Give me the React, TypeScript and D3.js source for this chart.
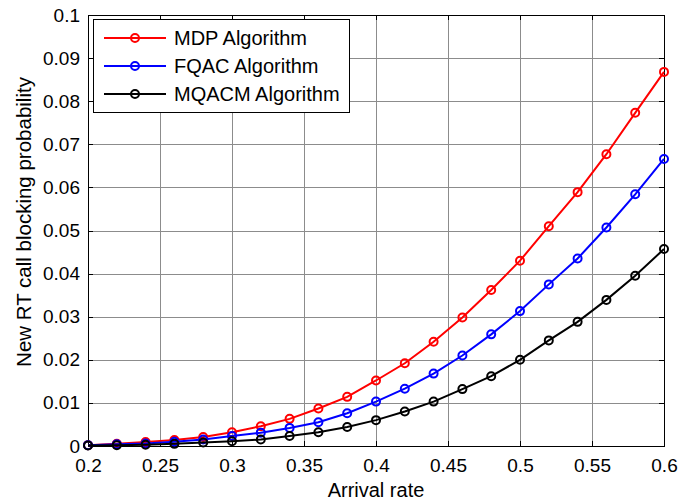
import React, { useEffect, useRef } from "react";
import * as d3 from "d3";

// arrival rates 0.2 .. 0.6
const arrivalRates = [0.2, 0.22, 0.24, 0.26, 0.28, 0.3, 0.32, 0.34, 0.36, 0.38, 0.4,
  0.42, 0.44, 0.46, 0.48, 0.5, 0.52, 0.54, 0.56, 0.58, 0.6];

const mdpValues = [0.0002, 0.0005, 0.0009, 0.0014, 0.0021, 0.0032, 0.0046, 0.0063, 0.0087, 0.0114, 0.0152,
  0.0192, 0.0242, 0.0298, 0.0362, 0.043, 0.051, 0.0589, 0.0677, 0.0773, 0.0868];
const fqacValues = [0.0002, 0.0004, 0.0006, 0.001, 0.0015, 0.0023, 0.0031, 0.0042, 0.0055, 0.0076, 0.0103,
  0.0133, 0.0168, 0.021, 0.0259, 0.0313, 0.0375, 0.0435, 0.0507, 0.0584, 0.0666];
const mqacmValues = [0.0001, 0.0002, 0.0003, 0.0005, 0.0008, 0.0011, 0.0015, 0.0023, 0.0032, 0.0044, 0.006,
  0.008, 0.0103, 0.0132, 0.0162, 0.02, 0.0245, 0.0288, 0.0339, 0.0395, 0.0457];

const seriesNames = ["MDP Algorithm", "FQAC Algorithm", "MQACM Algorithm"];
const seriesColors = ["#ff0000", "#0000ff", "#000000"];

const xTicks = [0.2, 0.25, 0.3, 0.35, 0.4, 0.45, 0.5, 0.55, 0.6];
const yTicks = [0, 0.01, 0.02, 0.03, 0.04, 0.05, 0.06, 0.07, 0.08, 0.09, 0.1];

export default function App() {
  const ref = useRef<SVGSVGElement>(null);

  useEffect(() => {
    const svg = d3.select(ref.current);
    svg.selectAll("*").remove();

    const left = 88, right = 664, top = 15, bottom = 446;
    const font = "Arial, 'Liberation Sans', sans-serif";

    const x = d3.scaleLinear().domain([0.2, 0.6]).range([left, right]);
    const y = d3.scaleLinear().domain([0, 0.1]).range([bottom, top]);

    svg.append("rect").attr("width", 680).attr("height", 501).attr("fill", "#fff");

    // grid
    const grid = svg.append("g").attr("stroke", "#8c8c8c").attr("stroke-width", 1);
    xTicks.slice(1, -1).forEach((t) => {
      grid.append("line").attr("x1", Math.round(x(t)) + 0.5).attr("x2", Math.round(x(t)) + 0.5)
        .attr("y1", top).attr("y2", bottom);
    });
    yTicks.slice(1, -1).forEach((t) => {
      grid.append("line").attr("y1", Math.round(y(t)) + 0.5).attr("y2", Math.round(y(t)) + 0.5)
        .attr("x1", left).attr("x2", right);
    });

    // axes
    const xAxis = d3.axisBottom(x).tickValues(xTicks).tickSize(0).tickPadding(13)
      .tickFormat((d) => d3.format("")(+d));
    const yAxis = d3.axisLeft(y).tickValues(yTicks).tickSize(0).tickPadding(8)
      .tickFormat((d) => d3.format("")(+d));

    const gx = svg.append("g").attr("transform", `translate(0,${bottom})`).call(xAxis);
    const gy = svg.append("g").attr("transform", `translate(${left},0)`).call(yAxis);
    [gx, gy].forEach((g) => {
      g.select(".domain").remove();
      g.selectAll("text").attr("font-family", font).attr("font-size", 19).attr("fill", "#000");
    });

    // inward tick marks on all four sides
    const ticks = svg.append("g").attr("stroke", "#000").attr("stroke-width", 1);
    xTicks.forEach((t) => {
      const px = Math.round(x(t)) + 0.5;
      ticks.append("line").attr("x1", px).attr("x2", px).attr("y1", bottom).attr("y2", bottom - 5);
      ticks.append("line").attr("x1", px).attr("x2", px).attr("y1", top).attr("y2", top + 5);
    });
    yTicks.forEach((t) => {
      const py = Math.round(y(t)) + 0.5;
      ticks.append("line").attr("x1", left).attr("x2", left + 5).attr("y1", py).attr("y2", py);
      ticks.append("line").attr("x1", right).attr("x2", right - 5).attr("y1", py).attr("y2", py);
    });

    svg.append("rect").attr("x", left + 0.5).attr("y", top + 0.5)
      .attr("width", right - left).attr("height", bottom - top)
      .attr("fill", "none").attr("stroke", "#000").attr("stroke-width", 1);

    // series
    const allSeries = [mdpValues, fqacValues, mqacmValues];
    const line = d3.line<number>().x((_, i) => x(arrivalRates[i])).y((d) => y(d));

    allSeries.forEach((vals, k) => {
      const g = svg.append("g");
      g.append("path").attr("d", line(vals)).attr("fill", "none")
        .attr("stroke", seriesColors[k]).attr("stroke-width", 2);
      g.selectAll("circle").data(vals).enter().append("circle")
        .attr("cx", (_, i) => x(arrivalRates[i])).attr("cy", (d) => y(d)).attr("r", 4)
        .attr("fill", "none").attr("stroke", seriesColors[k]).attr("stroke-width", 2);
    });

    // axis labels
    svg.append("text").attr("x", (left + right) / 2).attr("y", 497)
      .attr("text-anchor", "middle").attr("font-family", font).attr("font-size", 20)
      .text("Arrival rate");
    svg.append("text").attr("transform", `translate(31,222) rotate(-90)`)
      .attr("text-anchor", "middle").attr("font-family", font).attr("font-size", 20.5)
      .text("New RT call blocking probability");

    // legend
    const legend = svg.append("g");
    legend.append("rect").attr("x", 93.5).attr("y", 19.5).attr("width", 256).attr("height", 93)
      .attr("fill", "#fff").attr("stroke", "#000").attr("stroke-width", 1);
    const rowY = [38, 66, 94];
    seriesNames.forEach((name, k) => {
      legend.append("line").attr("x1", 104).attr("x2", 166).attr("y1", rowY[k]).attr("y2", rowY[k])
        .attr("stroke", seriesColors[k]).attr("stroke-width", 2);
      legend.append("circle").attr("cx", 135).attr("cy", rowY[k]).attr("r", 4)
        .attr("fill", "none").attr("stroke", seriesColors[k]).attr("stroke-width", 2);
      legend.append("text").attr("x", 174).attr("y", rowY[k] + 7)
        .attr("font-family", font).attr("font-size", 20).text(name);
    });
  }, []);

  return (
    <svg ref={ref} width={680} height={501} style={{ position: "absolute", left: 0, top: 0 }} />
  );
}
